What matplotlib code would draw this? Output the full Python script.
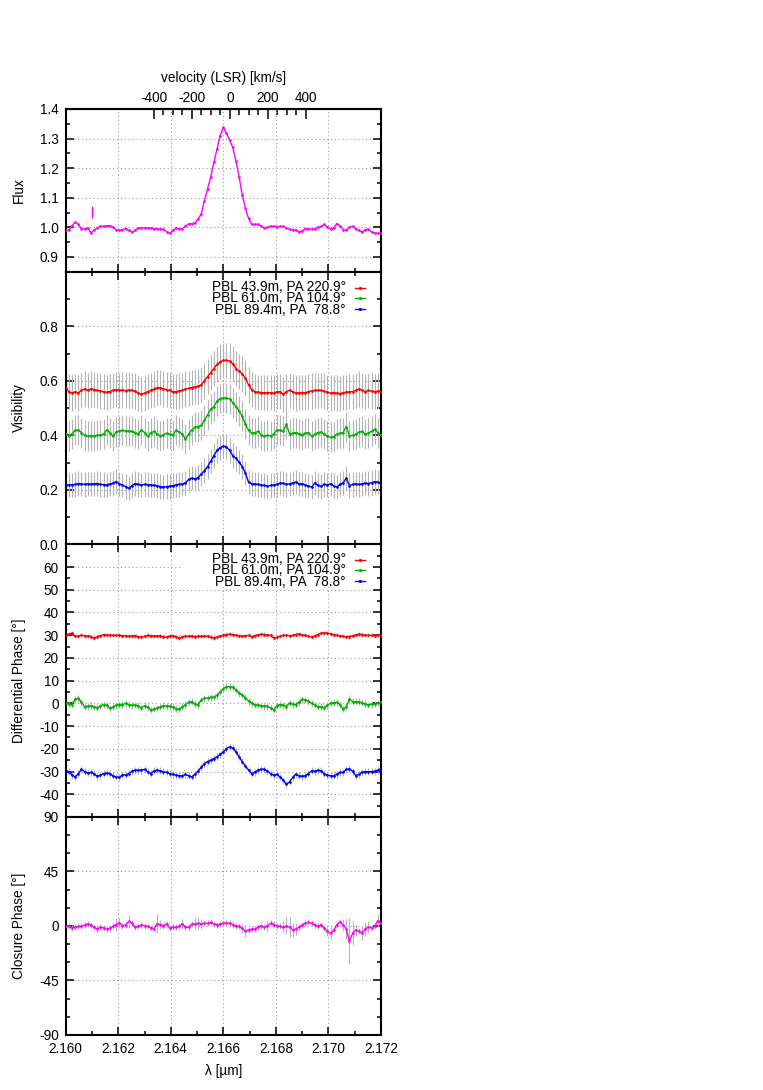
import numpy as np
import matplotlib
matplotlib.use("Agg")
import matplotlib.pyplot as plt
from matplotlib.ticker import FixedLocator, MultipleLocator, FormatStrFormatter
from matplotlib.patches import Rectangle
from matplotlib.lines import Line2D

plt.rcParams['font.family'] = ['Liberation Sans', 'DejaVu Sans']
plt.rcParams['font.size'] = 9.8
plt.rcParams['axes.unicode_minus'] = False

# spectral channels over the plotted range
wl = np.linspace(2.160, 2.172, 101)
lam0 = 2.16625          # rest wavelength for the LSR velocity axis
c_kms = 299792.458

flux = [0.990, 0.990, 1.005, 1.018, 1.010, 0.995, 0.995, 0.998, 0.982, 0.990,
        0.999, 1.003, 1.004, 1.005, 1.006, 1.000, 0.992, 0.990, 0.992, 0.996,
        0.990, 0.984, 0.990, 0.998, 0.998, 0.999, 0.998, 0.998, 0.996, 0.995,
        0.994, 0.993, 0.985, 0.980, 0.990, 0.998, 0.995, 0.995, 1.005, 1.012,
        1.013, 1.015, 1.028, 1.045, 1.090, 1.130, 1.170, 1.220, 1.265, 1.310,
        1.338, 1.318, 1.295, 1.270, 1.225, 1.170, 1.110, 1.065, 1.030, 1.010,
        1.010, 1.010, 1.005, 0.998, 1.000, 1.004, 1.003, 1.002, 1.003, 1.003,
        0.998, 0.993, 0.990, 0.992, 0.985, 0.988, 0.996, 0.995, 0.994, 0.995,
        1.000, 1.003, 1.010, 1.002, 0.995, 0.998, 1.013, 1.005, 0.992, 0.990,
        1.000, 1.003, 0.995, 0.990, 0.984, 0.992, 0.993, 0.985, 0.980, 0.980,
        0.980]
# single representative flux error bar
flux_err_wl = 2.161
flux_err_val = 1.052
flux_err = 0.02

vis_1 = [0.575, 0.560, 0.555, 0.560, 0.555, 0.565, 0.570, 0.565, 0.570, 0.568,
         0.565, 0.562, 0.560, 0.558, 0.560, 0.565, 0.568, 0.565, 0.566, 0.564,
         0.566, 0.565, 0.562, 0.555, 0.550, 0.555, 0.560, 0.565, 0.570, 0.575,
         0.575, 0.570, 0.568, 0.565, 0.560, 0.560, 0.563, 0.565, 0.570, 0.572,
         0.575, 0.578, 0.580, 0.585, 0.600, 0.615, 0.630, 0.645, 0.660, 0.670,
         0.675, 0.675, 0.672, 0.662, 0.645, 0.635, 0.625, 0.610, 0.585, 0.568,
         0.560, 0.558, 0.557, 0.556, 0.557, 0.556, 0.555, 0.560, 0.560, 0.550,
         0.560, 0.565, 0.560, 0.555, 0.556, 0.557, 0.556, 0.560, 0.563, 0.565,
         0.565, 0.565, 0.562, 0.558, 0.555, 0.557, 0.555, 0.553, 0.556, 0.558,
         0.560, 0.560, 0.565, 0.570, 0.565, 0.560, 0.565, 0.562, 0.560, 0.562,
         0.560]
vis_2 = [0.406, 0.398, 0.405, 0.418, 0.420, 0.410, 0.400, 0.396, 0.398, 0.398,
         0.400, 0.401, 0.404, 0.420, 0.410, 0.396, 0.412, 0.416, 0.418, 0.416,
         0.416, 0.414, 0.410, 0.405, 0.420, 0.410, 0.396, 0.410, 0.414, 0.405,
         0.398, 0.402, 0.408, 0.404, 0.402, 0.418, 0.412, 0.405, 0.385, 0.405,
         0.420, 0.430, 0.432, 0.436, 0.455, 0.475, 0.495, 0.505, 0.525, 0.535,
         0.537, 0.537, 0.533, 0.520, 0.505, 0.490, 0.470, 0.440, 0.418, 0.408,
         0.410, 0.414, 0.402, 0.396, 0.400, 0.398, 0.405, 0.420, 0.418, 0.415,
         0.440, 0.405, 0.408, 0.410, 0.406, 0.402, 0.408, 0.410, 0.396, 0.404,
         0.410, 0.412, 0.404, 0.398, 0.392, 0.395, 0.404, 0.408, 0.410, 0.432,
         0.398, 0.400, 0.404, 0.412, 0.414, 0.404, 0.408, 0.415, 0.422, 0.410,
         0.400]
vis_3 = [0.218, 0.218, 0.218, 0.220, 0.223, 0.222, 0.220, 0.222, 0.221, 0.222,
         0.223, 0.220, 0.219, 0.218, 0.222, 0.224, 0.230, 0.222, 0.218, 0.212,
         0.206, 0.215, 0.223, 0.220, 0.218, 0.220, 0.219, 0.218, 0.217, 0.215,
         0.212, 0.210, 0.212, 0.213, 0.215, 0.218, 0.220, 0.222, 0.225, 0.238,
         0.243, 0.240, 0.245, 0.258, 0.270, 0.285, 0.305, 0.325, 0.345, 0.355,
         0.360, 0.358, 0.345, 0.325, 0.315, 0.302, 0.285, 0.262, 0.228, 0.222,
         0.222, 0.220, 0.218, 0.216, 0.214, 0.216, 0.218, 0.220, 0.225, 0.224,
         0.220, 0.222, 0.225, 0.228, 0.222, 0.222, 0.218, 0.214, 0.210, 0.225,
         0.216, 0.213, 0.220, 0.218, 0.222, 0.215, 0.210, 0.220, 0.225, 0.243,
         0.215, 0.220, 0.222, 0.220, 0.222, 0.225, 0.223, 0.226, 0.230, 0.228,
         0.220]
vis_err = [0.065, 0.055, 0.045]

dphi_1 = [30.1, 30.5, 30.9, 29.5, 29.6, 30.0, 29.8, 29.7, 29.4, 28.8,
          29.3, 29.8, 30.2, 30.1, 30.0, 30.0, 29.9, 29.9, 29.8, 29.7,
          29.6, 29.7, 29.8, 29.4, 29.1, 29.5, 29.9, 29.8, 29.7, 29.6,
          29.8, 29.3, 29.1, 29.6, 29.6, 29.4, 28.8, 29.2, 29.6, 29.5,
          29.6, 29.4, 29.5, 29.5, 29.6, 29.5, 29.0, 28.8, 29.2, 29.5,
          30.0, 30.3, 30.5, 30.3, 30.0, 29.8, 29.6, 29.8, 29.9, 29.4,
          29.8, 30.2, 30.4, 30.3, 30.2, 29.9, 28.8, 29.0, 29.6, 29.9,
          30.0, 29.8, 29.9, 30.3, 30.6, 30.2, 29.9, 29.5, 29.2, 29.6,
          30.3, 30.9, 31.0, 30.9, 30.6, 30.3, 30.0, 29.7, 29.5, 29.3,
          29.4, 29.8, 30.1, 30.5, 30.3, 30.0, 29.9, 29.9, 29.8, 29.9,
          29.9]
dphi_2 = [0.0, -0.3, -0.5, 1.8, 2.2, 0.5, -1.5, -1.2, -1.0, -1.6,
          -1.9, -1.2, -0.5, -0.8, -2.2, -1.5, -0.8, -0.5, -0.5, 0.0,
          -0.5, -0.8, -0.7, -1.0, -2.0, -1.0, -1.8, -2.9, -2.5, -2.0,
          -1.5, -1.0, -1.2, -1.3, -1.5, -2.3, -2.6, -1.5, -0.5, 0.5,
          0.7, -0.2, -0.5, 1.5, 2.2, 2.4, 2.6, 2.8, 3.5, 5.0,
          6.5, 7.4, 7.4, 7.0, 5.9, 4.5, 3.7, 2.5, 1.0, 0.0,
          -0.7, -0.7, -1.0, -1.2, -1.2, -2.0, -2.9, -1.0, -0.5, -0.8,
          -1.4, 0.2, -0.4, -0.5, 0.5, 1.8, 1.5, 1.0, 0.0, -0.7,
          -1.5, -1.5, -2.0, -0.8, 0.0, 0.3, 0.4, -0.5, -2.5, -1.5,
          1.8, 0.8, 0.7, 0.7, 0.3, -0.2, -0.7, -0.4, -0.3, 0.2,
          0.4]
dphi_3 = [-29.7, -30.0, -31.6, -32.4, -30.9, -29.1, -30.0, -30.6, -30.4, -30.9,
          -32.1, -31.6, -30.9, -30.6, -30.9, -31.9, -32.4, -32.6, -31.5, -31.5,
          -30.9, -29.9, -29.4, -29.4, -29.4, -29.1, -30.1, -30.9, -29.7, -29.4,
          -29.7, -30.1, -30.4, -30.9, -31.2, -31.6, -31.8, -31.9, -31.3, -31.8,
          -32.4, -31.2, -29.7, -28.2, -26.5, -25.6, -25.0, -24.3, -23.5, -22.5,
          -21.3, -19.9, -19.1, -19.6, -21.3, -23.5, -25.7, -27.6, -29.4, -30.9,
          -30.3, -29.4, -29.0, -29.0, -29.9, -30.9, -31.6, -31.3, -32.4, -33.8,
          -35.6, -34.6, -32.6, -31.2, -31.9, -32.1, -31.8, -30.9, -29.7, -29.9,
          -29.4, -29.7, -30.9, -31.6, -31.9, -31.9, -31.2, -30.4, -30.4, -29.1,
          -28.8, -29.9, -31.8, -31.3, -30.3, -30.1, -30.1, -30.0, -29.9, -29.4,
          -28.7]
dphi_err = [0.9, 1.5, 1.5]

cp = [0.1, -0.4, -1.8, -1.2, -0.4, -0.4, 0.7, 1.8, 0.7, -1.0,
      -2.6, -1.2, -1.5, -2.6, -2.1, -0.4, 1.2, 2.3, 0.1, 1.0,
      3.7, 2.3, -1.2, -0.4, 1.0, 0.1, -0.4, -1.5, -2.3, 1.8,
      1.2, 0.1, 1.8, -1.8, -1.2, -1.2, -0.4, 1.8, -1.0, -1.2,
      1.5, 1.8, 2.1, 1.8, 2.1, 2.3, 2.9, 1.8, 1.0, 1.5,
      2.3, 2.3, 2.3, 1.2, 0.1, -0.4, -2.1, -4.3, -3.2, -2.6,
      -2.6, -1.0, 0.1, -1.0, 0.1, 2.1, 1.2, 0.1, -0.4, -1.0,
      0.1, -1.0, -3.2, -2.6, -1.0, 0.7, 2.3, 2.9, 2.3, 1.0,
      -0.4, 1.0, -1.8, -4.5, -5.9, -3.7, 1.0, 3.4, 1.0, -2.6,
      -12.8, -5.9, -3.2, -4.5, -5.9, -2.6, -1.0, -1.5, -0.4, 4.5,
      2.3]
cp_err = [2.5, 2.5, 2.5, 2.5, 2.5, 2.5, 2.5, 2.5, 2.5, 2.5,
          2.5, 2.5, 2.5, 2.5, 2.5, 2.5, 5.0, 4.0, 2.5, 2.5,
          5.0, 2.5, 2.5, 2.5, 2.5, 2.5, 2.5, 2.5, 2.5, 8.0,
          4.0, 2.5, 2.5, 2.5, 2.5, 2.5, 2.5, 4.0, 2.5, 2.5,
          2.5, 5.0, 5.0, 4.0, 2.5, 2.5, 2.5, 2.5, 2.5, 2.5,
          2.5, 2.5, 2.5, 2.5, 2.5, 2.5, 4.0, 5.0, 2.5, 2.5,
          2.5, 2.5, 2.5, 2.5, 4.0, 2.5, 2.5, 2.5, 2.5, 5.0,
          7.0, 8.0, 6.0, 5.0, 2.5, 2.5, 2.5, 2.5, 2.5, 2.5,
          2.5, 2.5, 2.5, 4.0, 5.0, 2.5, 2.5, 2.5, 5.0, 8.0,
          19.0, 10.0, 5.0, 2.5, 6.0, 6.0, 5.0, 2.5, 2.5, 5.0,
          2.5]

labels = ["PBL 43.9m, PA 220.9°", "PBL 61.0m, PA 104.9°", "PBL 89.4m, PA  78.8°"]
colors = ['#ff0000', '#00b000', '#0000ff']
magenta = '#ff00ff'
errgrey = '#b4b4b4'


def style(ax):
    ax.set_xlim(2.160, 2.172)
    ax.xaxis.set_major_locator(MultipleLocator(0.002))
    ax.xaxis.set_minor_locator(MultipleLocator(0.001))
    ax.xaxis.set_major_formatter(FormatStrFormatter('%.3f'))
    ax.tick_params(which='both', direction='in', top=True, right=True, width=1.1, pad=5)
    ax.tick_params(which='major', length=6)
    ax.tick_params(which='minor', length=3)
    ax.grid(True, which='major', color='#9a9a9a', ls=(0, (1, 2.5)), lw=0.8)
    for s in ax.spines.values():
        s.set_linewidth(1.5)
    ax.yaxis.set_label_coords(-0.126, 0.5)


def draw(ax, y, err, color):
    ax.errorbar(wl, y, yerr=err, fmt='none', ecolor=errgrey, elinewidth=0.8, capsize=0, zorder=2)
    ax.plot(wl, y, color=color, lw=1.0, marker='.', ms=1.8, zorder=3)


def key(ax, ymid, dy):
    # gnuplot-style key: one right-aligned text block, samples on the right
    ax.add_patch(Rectangle((0.369, 0.85), 0.603, 0.115, transform=ax.transAxes,
                           facecolor='white', edgecolor='none', zorder=1.8))
    ax.text(0.888, ymid, "\n".join(labels), transform=ax.transAxes, ha='right', va='center',
            multialignment='right', linespacing=0.76, zorder=4)
    for i, col in enumerate(colors):
        yy = ymid + (1 - i) * dy
        ax.add_line(Line2D([0.917, 0.949], [yy, yy], transform=ax.transAxes, color=col, lw=1, zorder=4))
        ax.add_line(Line2D([0.933], [yy], transform=ax.transAxes, color=col, marker='.', ms=2.5, zorder=4))


fig = plt.figure(figsize=(7.63, 10.90), dpi=100)
x0, w = 0.0861, 0.4132
ax1 = fig.add_axes([x0, 0.7507, w, 0.1493])
ax2 = fig.add_axes([x0, 0.5006, w, 0.2501])
ax3 = fig.add_axes([x0, 0.2505, w, 0.2501])
ax4 = fig.add_axes([x0, 0.0505, w, 0.2000])

# flux
style(ax1)
ax1.plot(wl, flux, color=magenta, lw=1.0, marker='.', ms=1.8, zorder=3)
ax1.errorbar([flux_err_wl], [flux_err_val], yerr=[flux_err], fmt='none', ecolor=magenta,
             elinewidth=1.0, capsize=0, zorder=3)
ax1.set_ylim(0.85, 1.4)
ax1.yaxis.set_major_locator(FixedLocator([0.9, 1.0, 1.1, 1.2, 1.3, 1.4]))
ax1.yaxis.set_minor_locator(MultipleLocator(0.05))
ax1.yaxis.set_major_formatter(FormatStrFormatter('%.1f'))
ax1.tick_params(which='both', top=False, labelbottom=False)
ax1.set_ylabel('Flux')

vel = ax1.secondary_xaxis('top', functions=(lambda l: (l - lam0) / lam0 * c_kms,
                                            lambda v: lam0 * (1 + v / c_kms)))
vel.set_xticks([-400, -200, 0, 200, 400])
vel.xaxis.set_minor_locator(FixedLocator(np.arange(-400, 401, 50)))
vel.tick_params(which='both', direction='in', width=1.1, pad=3)
vel.tick_params(which='major', length=7)
vel.tick_params(which='minor', length=4)
vel.spines['top'].set_linewidth(1.5)
vel.set_xlabel('velocity (LSR) [km/s]', labelpad=6)

# visibility
style(ax2)
for y, e, c in zip([vis_1, vis_2, vis_3], vis_err, colors):
    draw(ax2, y, e, c)
ax2.set_ylim(0.0, 1.0)
ax2.yaxis.set_major_locator(FixedLocator([0.0, 0.2, 0.4, 0.6, 0.8]))
ax2.yaxis.set_minor_locator(MultipleLocator(0.1))
ax2.yaxis.set_major_formatter(FormatStrFormatter('%.1f'))
ax2.tick_params(labelbottom=False)
ax2.set_ylabel('Visibility')
key(ax2, 0.903, 0.0385)

# differential phase
style(ax3)
for y, e, c in zip([dphi_1, dphi_2, dphi_3], dphi_err, colors):
    draw(ax3, y, e, c)
ax3.set_ylim(-50, 70)
ax3.yaxis.set_major_locator(FixedLocator([-40, -30, -20, -10, 0, 10, 20, 30, 40, 50, 60]))
ax3.yaxis.set_minor_locator(MultipleLocator(5))
ax3.tick_params(labelbottom=False)
ax3.set_ylabel('Differential Phase [°]')
key(ax3, 0.905, 0.0385)

# closure phase
style(ax4)
draw(ax4, cp, cp_err, magenta)
ax4.set_ylim(-90, 90)
ax4.yaxis.set_major_locator(MultipleLocator(45))
ax4.yaxis.set_minor_locator(MultipleLocator(15))
ax4.set_ylabel('Closure Phase [°]')
ax4.set_xlabel('λ [µm]', labelpad=6)

fig.savefig('out.png', dpi=100)
